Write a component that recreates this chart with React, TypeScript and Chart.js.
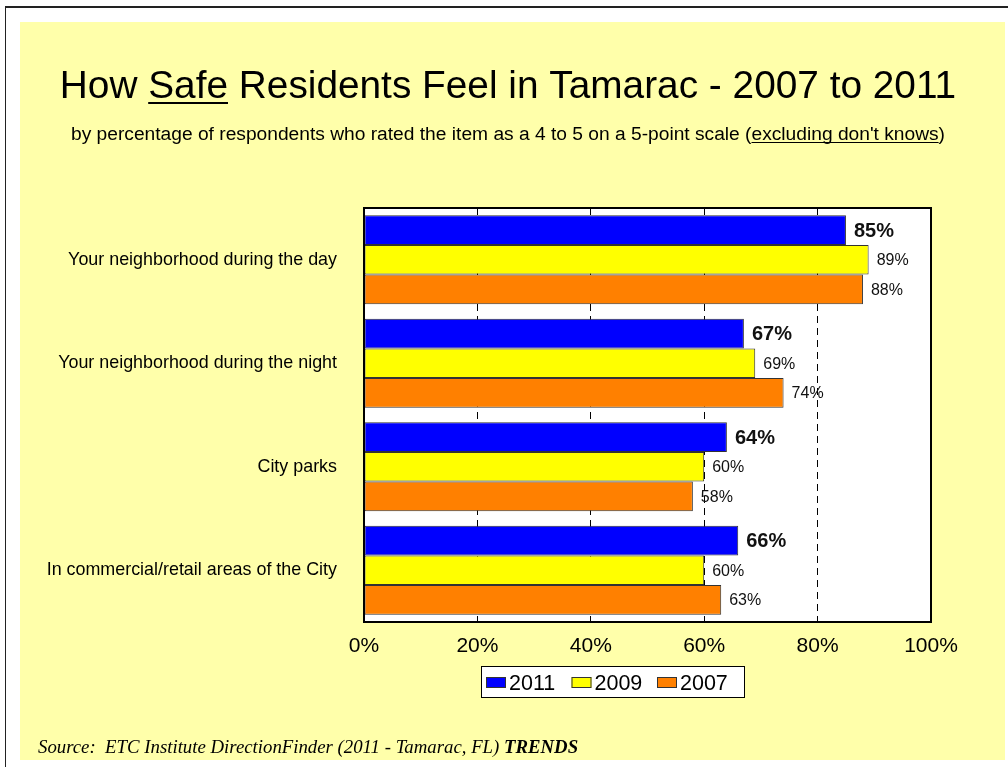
import React, { useEffect, useRef } from "react";
import { Chart, registerables } from "chart.js";

Chart.register(...registerables);

const categories = [
  "Your neighborhood during the day",
  "Your neighborhood during the night",
  "City parks",
  "In commercial/retail areas of the City",
];
const seriesNames = ["2011", "2009", "2007"];
const values2011 = [85, 67, 64, 66];
const values2009 = [89, 69, 60, 60];
const values2007 = [88, 74, 58, 63];
const seriesColors = ["#0000FF", "#FFFF00", "#FF8000"];
const xTickValues = [0, 20, 40, 60, 80, 100];

const SANS = "'Liberation Sans', Arial, sans-serif";
const SERIF = "'Liberation Serif', 'Times New Roman', serif";

function drawSegments(
  ctx: CanvasRenderingContext2D,
  segs: { text: string; underline?: boolean; font: string }[],
  centerX: number,
  baseline: number,
  ulOffset: number,
  ulWidth: number
) {
  let total = 0;
  const widths = segs.map((s) => {
    ctx.font = s.font;
    const w = ctx.measureText(s.text).width;
    total += w;
    return w;
  });
  let x = centerX - total / 2;
  ctx.textAlign = "left";
  ctx.textBaseline = "alphabetic";
  segs.forEach((s, i) => {
    ctx.font = s.font;
    ctx.fillText(s.text, x, baseline);
    if (s.underline) {
      ctx.fillRect(x, baseline + ulOffset, widths[i], ulWidth);
    }
    x += widths[i];
  });
}

const pagePlugin = {
  id: "pagePlugin",
  beforeDraw(chart: any) {
    const { ctx, chartArea } = chart;
    ctx.save();
    ctx.fillStyle = "#FFFFFF";
    ctx.fillRect(0, 0, chart.width, chart.height);
    ctx.fillStyle = "#FFFFAA";
    ctx.fillRect(20, 22, 985, 738);
    ctx.fillStyle = "#222222";
    ctx.fillRect(5, 6, 1003, 2);
    ctx.fillRect(5, 6, 1, 761);
    ctx.fillStyle = "#FFFFFF";
    ctx.fillRect(chartArea.left, chartArea.top, chartArea.right - chartArea.left, chartArea.bottom - chartArea.top);
    ctx.restore();
  },
  afterDatasetsDraw(chart: any) {
    const { ctx, chartArea } = chart;
    ctx.save();
    // value labels
    chart.data.datasets.forEach((ds: any, i: number) => {
      const meta = chart.getDatasetMeta(i);
      ctx.font = i === 0 ? `bold 20px ${SANS}` : `16px ${SANS}`;
      ctx.fillStyle = "#111111";
      ctx.textAlign = "left";
      ctx.textBaseline = "middle";
      meta.data.forEach((bar: any, j: number) => {
        ctx.fillText(`${ds.data[j]}%`, bar.x + 8, bar.y + 1);
      });
    });
    // plot frame
    ctx.strokeStyle = "#000000";
    ctx.lineWidth = 2;
    ctx.strokeRect(chartArea.left, chartArea.top, chartArea.right - chartArea.left, chartArea.bottom - chartArea.top);
    ctx.restore();
  },
  afterDraw(chart: any) {
    const { ctx } = chart;
    ctx.save();
    ctx.fillStyle = "#000000";
    // title
    const tf = `38.8px ${SANS}`;
    drawSegments(
      ctx,
      [
        { text: "How ", font: tf },
        { text: "Safe", font: tf, underline: true },
        { text: " Residents Feel in Tamarac - 2007 to 2011", font: tf },
      ],
      508,
      98,
      4,
      2
    );
    const sf = `19.2px ${SANS}`;
    drawSegments(
      ctx,
      [
        { text: "by percentage of respondents who rated the item as a 4 to 5 on a 5-point scale (", font: sf },
        { text: "excluding don't knows", font: sf, underline: true },
        { text: ")", font: sf },
      ],
      508,
      140,
      2,
      1
    );
    // source
    ctx.textAlign = "left";
    ctx.textBaseline = "alphabetic";
    ctx.font = `italic 18.8px ${SERIF}`;
    const srcText = "Source:  ETC Institute DirectionFinder (2011 - Tamarac, FL) ";
    ctx.fillText(srcText, 38, 753);
    const w = ctx.measureText(srcText).width;
    ctx.font = `italic bold 18.8px ${SERIF}`;
    ctx.fillText("TRENDS", 38 + w, 753);

    // legend
    const lx = 481, ly = 666, lw = 263, lh = 31;
    ctx.fillStyle = "#FFFFFF";
    ctx.fillRect(lx, ly, lw, lh);
    ctx.strokeStyle = "#000000";
    ctx.lineWidth = 1;
    ctx.strokeRect(lx + 0.5, ly + 0.5, lw, lh);
    ctx.font = `21.5px ${SANS}`;
    ctx.textBaseline = "alphabetic";
    chart.data.datasets.forEach((ds: any, i: number) => {
      const sx = 486 + i * 85.5;
      ctx.fillStyle = ds.backgroundColor;
      ctx.fillRect(sx, 677, 20, 11);
      ctx.strokeStyle = "#333333";
      ctx.strokeRect(sx + 0.5, 677.5, 19, 10);
      ctx.fillStyle = "#000000";
      ctx.fillText(ds.label, sx + 23, 689.5);
    });
    ctx.restore();
  },
};

export default function App() {
  const canvasRef = useRef<HTMLCanvasElement | null>(null);

  useEffect(() => {
    document.body.style.margin = "0";
    const canvas = canvasRef.current;
    if (!canvas) return;
    const datasets = [values2011, values2009, values2007].map((vals, i) => ({
      label: seriesNames[i],
      data: vals,
      backgroundColor: seriesColors[i],
      borderColor: "#333333",
      borderWidth: 1,
      borderSkipped: false,
      categoryPercentage: 0.86,
      barPercentage: 1.0,
    }));
    const chart = new Chart(canvas, {
      type: "bar",
      data: { labels: categories, datasets },
      options: {
        indexAxis: "y",
        animation: false,
        responsive: false,
        devicePixelRatio: 1,
        layout: { padding: { top: 208, left: 0, right: 77, bottom: 85 } },
        plugins: {
          legend: { display: false },
          title: { display: false },
          tooltip: { enabled: false },
        },
        scales: {
          x: {
            type: "linear",
            min: 0,
            max: 100,
            afterBuildTicks: (scale: any) => {
              scale.ticks = xTickValues.map((v) => ({ value: v }));
            },
            afterFit: (scale: any) => {
              scale.height = 60;
            },
            grid: {
              color: (c: any) =>
                c.tick && (c.tick.value === 0 || c.tick.value === 100) ? "rgba(0,0,0,0)" : "#000000",
              lineWidth: 1,
              drawTicks: false,
            },
            border: { display: false, dash: [7, 5] },
            ticks: {
              callback: (v: any) => `${v}%`,
              font: { family: SANS, size: 21 },
              color: "#000000",
              padding: 12,
              maxRotation: 0,
            },
          },
          y: {
            type: "category",
            afterFit: (scale: any) => {
              scale.width = 364;
            },
            grid: { display: false, drawTicks: false },
            border: { display: false },
            ticks: {
              font: { family: SANS, size: 17.9 },
              color: "#000000",
              padding: 27,
            },
          },
        },
      },
      plugins: [pagePlugin],
    } as any);
    return () => chart.destroy();
  }, []);

  return (
    <div style={{ width: 1008, height: 767 }}>
      <canvas ref={canvasRef} width={1008} height={767} style={{ display: "block" }} />
    </div>
  );
}
